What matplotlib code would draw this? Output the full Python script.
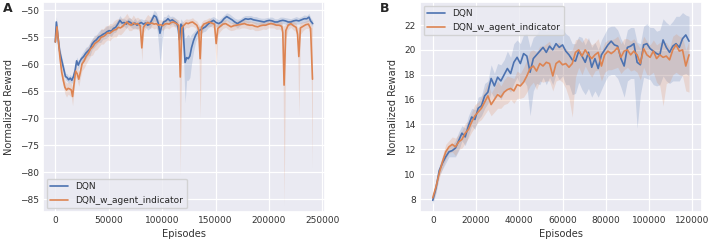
import numpy as np
import matplotlib
matplotlib.use("Agg")
import matplotlib.pyplot as plt
import seaborn as sns

sns.set_theme(style="darkgrid")
plt.rcParams['font.family'] = ['DejaVu Sans']

# ---------------- Panel A data ----------------
a_dqn_x = [0, 1000, 2500, 4000, 6000, 8000, 9500, 11000, 12500, 14000, 15500, 17000, 18500, 20000,
           21500, 23000, 24500, 26500, 28500, 30500, 32500, 34500, 36500, 38500, 40500, 42500, 44500,
           46500, 48500, 50500, 52500, 54500, 56500, 58500, 60500, 62500, 64500, 66500, 68500, 70500,
           72500, 74500, 76500, 78500, 80500, 82500, 84500, 86500, 88500, 90500, 92500, 94500, 96500,
           98000, 99500, 101500, 103500, 105500, 107500, 109500, 111500, 113500, 114800, 116200, 117600,
           119500, 121500, 123000, 124500, 126000, 127500, 129500, 131500, 133500, 135500, 138000,
           140500, 143000, 145500, 148000, 150500, 153000, 155500, 158000, 160500, 163000, 165500,
           168000, 170500, 173000, 175500, 178000, 180500, 183000, 185500, 188000, 190500, 193000,
           195500, 198000, 200500, 203000, 205500, 208000, 210500, 213000, 215500, 218000, 220500,
           223000, 225500, 228000, 230500, 233000, 235500, 237500, 239000, 241000]
a_dqn_y = [-55.9, -52.2, -55.0, -57.5, -59.3, -61.0, -62.3, -62.5, -62.9, -62.6, -63.0, -62.3, -61.2, -59.4,
           -60.2, -59.5, -59.0, -58.6, -58.0, -57.6, -57.2, -56.3, -55.8, -55.5, -55.0, -54.8, -54.5,
           -54.3, -54.0, -53.8, -53.9, -53.4, -53.2, -52.6, -51.9, -52.4, -52.3, -52.6, -52.1, -52.3,
           -52.7, -52.4, -52.8, -52.5, -52.3, -52.6, -52.4, -52.8, -52.6, -51.8, -51.0, -51.3, -52.5,
           -54.3, -53.0, -52.2, -52.0, -51.6, -52.0, -51.8, -52.1, -52.4, -53.0, -55.5, -52.6,
           -53.2, -59.7, -58.8, -59.0, -58.5, -57.0, -55.6, -54.6, -54.0, -53.7, -53.4,
           -53.1, -52.6, -52.2, -51.9, -52.3, -52.5, -52.2, -51.6, -51.2, -51.5, -51.8,
           -52.2, -52.5, -52.2, -51.9, -51.6, -51.7, -51.6, -51.8, -51.9, -52.0, -52.1,
           -52.2, -52.0, -51.9, -52.0, -52.2, -52.2, -52.0, -51.9, -52.0, -52.2, -52.2,
           -52.0, -51.9, -52.0, -51.8, -51.6, -51.6, -51.3, -52.0, -52.5]
a_dqn_lo = [1.0, 1.0, 1.0, 1.0, 0.7, 0.7, 0.6, 0.7, 0.6, 0.7, 0.6, 0.7, 0.8, 0.7,
            0.8, 0.7, 0.8, 1.0, 1.1, 0.9, 1.2, 1.0, 1.1, 0.9, 1.0, 1.2, 0.9,
            1.0, 1.1, 0.9, 1.0, 0.8, 0.9, 0.8, 0.7, 0.8, 0.7, 0.8, 0.7, 0.8,
            0.7, 0.9, 0.7, 0.8, 0.7, 0.8, 0.7, 0.9, 0.8, 0.9, 1.0, 0.9, 3.5,
            5.5, 4.0, 1.2, 0.8, 0.9, 0.8, 0.7, 0.8, 0.7, 0.9, 1.6, 1.0,
            2.5, 7.5, 4.2, 4.0, 4.0, 3.0, 2.0, 1.2, 0.9, 0.8, 0.7,
            0.8, 0.7, 0.8, 0.7, 0.8, 0.7, 0.8, 0.7, 0.7, 0.8, 0.7,
            0.7, 0.8, 0.6, 0.7, 0.6, 0.7, 0.6, 0.6, 0.7, 0.6, 0.6,
            0.7, 0.6, 0.6, 0.7, 0.6, 0.6, 0.7, 0.6, 0.6, 0.7, 0.6,
            0.6, 0.7, 0.6, 0.6, 0.7, 0.6, 0.7, 0.6, 0.6]
a_dqn_hi = [1.0, 1.0, 1.0, 1.0, 0.7, 0.7, 0.6, 0.7, 0.6, 0.7, 0.6, 0.7, 0.8, 0.7,
            0.8, 0.7, 0.8, 1.0, 1.1, 0.9, 1.2, 1.0, 1.1, 0.9, 1.0, 1.2, 0.9,
            1.0, 1.1, 0.9, 1.0, 0.8, 0.9, 0.8, 0.9, 0.8, 0.7, 0.8, 0.7, 0.8,
            0.7, 0.9, 0.7, 0.8, 0.7, 0.8, 0.7, 0.9, 0.8, 0.9, 1.0, 0.9, 1.0,
            1.0, 0.8, 1.0, 0.8, 0.9, 0.8, 0.7, 0.8, 0.7, 0.9, 1.6, 1.0,
            1.0, 4.5, 4.0, 4.5, 3.5, 2.5, 1.5, 1.0, 0.9, 0.8, 0.7,
            0.8, 0.7, 0.8, 0.7, 0.8, 0.7, 0.8, 0.7, 0.7, 0.8, 0.7,
            0.7, 0.8, 0.6, 0.7, 0.6, 0.7, 0.6, 0.6, 0.7, 0.6, 0.6,
            0.7, 0.6, 0.6, 0.7, 0.6, 0.6, 0.7, 0.6, 0.6, 0.7, 0.6,
            0.6, 0.7, 0.6, 0.6, 0.7, 0.6, 0.7, 0.6, 0.6]

a_ind_x = [0, 1600, 3000, 4500, 6000, 7500, 9000, 10500, 12000, 13500, 15000, 16200, 17500, 19000,
           20500, 22000, 23500, 25000, 27000, 29000, 31000, 33000, 35000, 37000, 39000, 41000, 43000,
           45000, 47000, 49000, 51000, 53000, 55000, 57000, 59000, 61000, 63000, 65000, 67000, 69000,
           71000, 73000, 75000, 77000, 79500, 81000, 82500, 84500, 86500, 88500, 90500, 92500, 94500,
           96500, 98500, 100500, 102500, 104500, 106500, 108500, 110500, 112500, 115500, 117000, 118500,
           120500, 122500, 124500, 126500, 128500, 130500, 132500, 134200, 135600, 137000, 139000,
           141500, 144000, 146500, 149000, 150600, 152200, 154500, 157000, 159500, 162000, 164500,
           167000, 169500, 172000, 174500, 177000, 179500, 182000, 184500, 187000, 189500, 192000,
           194500, 197000, 199500, 202000, 204500, 207000, 209500, 212000, 213000, 214200, 215800,
           218000, 220500, 223000, 225500, 226800, 228000, 229500, 232000, 234500, 237000, 239000, 240800]
a_ind_y = [-55.9, -53.1, -56.0, -59.0, -61.5, -63.0, -64.3, -64.8, -64.5, -64.6, -64.8, -66.0, -63.8, -61.3,
           -61.8, -62.8, -61.5, -60.0, -59.4, -58.5, -58.0, -57.2, -56.8, -56.2, -55.9, -55.6, -55.0,
           -54.9, -54.6, -54.2, -54.3, -54.0, -53.7, -53.6, -53.2, -53.3, -53.0, -52.6, -52.2, -52.6,
           -52.8, -52.4, -52.6, -52.5, -52.9, -57.0, -53.2, -52.6, -52.3, -52.5, -52.4, -52.6, -52.5,
           -52.8, -52.7, -52.9, -52.6, -52.5, -52.6, -52.3, -52.2, -52.4, -52.8, -62.4, -53.3,
           -52.8, -52.4, -52.5, -52.3, -52.2, -52.5, -52.8, -53.6, -59.0, -53.2, -52.6,
           -52.4, -52.2, -52.4, -52.6, -56.2, -53.4, -53.0, -52.6, -52.5, -52.8, -53.1,
           -52.9, -52.8, -52.7, -52.6, -52.5, -52.7, -52.8, -52.8, -53.0, -53.1, -52.9,
           -52.8, -52.8, -52.6, -52.5, -52.6, -52.8, -52.8, -53.0, -54.2, -63.9, -53.8,
           -52.8, -52.5, -52.9, -53.2, -54.5, -58.6, -53.3, -53.0, -52.7, -52.6, -53.4, -62.8]
a_ind_lo = [1.0, 1.0, 1.0, 1.2, 1.2, 1.1, 1.2, 1.3, 1.1, 1.2, 1.3, 1.7, 1.2, 1.1,
            1.2, 1.3, 1.1, 1.2, 1.3, 1.4, 1.2, 1.3, 1.5, 1.3, 1.4, 1.2, 1.3,
            1.4, 1.2, 1.3, 1.4, 1.2, 1.3, 1.4, 1.2, 1.3, 1.2, 1.1, 1.0, 1.2,
            1.0, 1.1, 0.9, 1.0, 1.0, 2.5, 1.0, 0.9, 0.8, 0.9, 0.8, 0.9, 0.8,
            0.9, 0.8, 0.9, 0.8, 0.8, 0.9, 0.8, 0.8, 0.8, 1.0, 18.2, 1.2,
            0.9, 0.8, 0.8, 0.7, 0.8, 0.7, 0.8, 1.2, 11.0, 1.2, 0.8,
            0.7, 0.8, 0.7, 0.8, 4.6, 1.2, 0.9, 0.8, 0.7, 0.8, 0.7,
            0.8, 0.7, 0.8, 0.7, 0.8, 0.7, 0.8, 0.7, 0.8, 0.7, 0.8,
            0.7, 0.8, 0.7, 0.8, 0.7, 0.8, 0.7, 0.8, 1.5, 22.3, 1.5,
            0.8, 0.7, 0.8, 0.8, 1.5, 11.0, 1.2, 0.8, 0.7, 0.8, 1.2, 16.5]
a_ind_hi = [1.0, 1.0, 1.0, 1.2, 1.2, 1.1, 1.2, 1.3, 1.1, 1.2, 1.3, 1.5, 1.2, 1.1,
            1.2, 1.3, 1.1, 1.2, 1.3, 1.4, 1.2, 1.3, 1.5, 1.3, 1.4, 1.2, 1.6,
            1.4, 1.7, 1.3, 1.8, 1.5, 1.7, 1.9, 1.6, 1.8, 1.5, 1.4, 1.6, 1.3,
            1.2, 1.5, 1.1, 1.2, 1.2, 3.5, 1.0, 1.2, 1.5, 1.3, 1.1, 1.2, 1.0,
            1.1, 0.9, 1.0, 0.9, 0.8, 0.9, 0.8, 0.8, 0.8, 1.0, 9.5, 1.0,
            0.9, 0.8, 0.8, 0.7, 0.8, 0.7, 0.8, 1.0, 6.0, 1.0, 0.8,
            0.7, 0.8, 0.7, 0.8, 3.4, 1.0, 0.9, 0.8, 0.7, 0.8, 0.7,
            0.8, 0.7, 0.8, 0.7, 0.8, 0.7, 0.8, 0.7, 0.8, 0.7, 0.8,
            0.7, 0.8, 0.7, 0.8, 0.7, 0.8, 0.7, 0.8, 1.2, 11.0, 1.2,
            0.8, 0.7, 0.8, 0.8, 1.2, 5.5, 1.0, 0.8, 0.7, 0.8, 1.0, 9.5]

# ---------------- Panel B data ----------------
b_x = [0, 1500, 3000, 4500, 6000, 7500, 9000, 10500, 12000, 13500, 15000, 16500, 18000, 19500,
       21000, 22500, 24000, 25500, 27000, 28500, 30000, 31500, 33000, 34500, 36000, 37500, 39000,
       40500, 42000, 43500, 45000, 46500, 48000, 49500, 51000, 52500, 54000, 55500, 57000, 58500,
       60000, 61500, 63000, 64500, 66000, 67500, 69000, 70500, 72000, 73500, 75000, 76500, 78000,
       79500, 81000, 82500, 84000, 85500, 87000, 88500, 90000, 91500, 93000, 94500, 96000, 97500,
       99000, 100500, 102000, 103500, 105000, 106500, 108000, 109500, 111000, 112500, 114000,
       115500, 117000, 118500]
b_dqn_y = [7.9, 8.9, 10.3, 10.9, 11.4, 11.8, 11.9, 12.1, 12.7, 13.3, 13.0, 13.9, 14.6, 14.4,
           15.3, 15.5, 16.3, 16.6, 17.7, 17.1, 17.8, 17.5, 18.0, 18.5, 18.1, 19.0, 19.4,
           18.9, 19.7, 19.5, 18.2, 19.3, 19.6, 19.9, 20.2, 19.8, 20.3, 20.0, 20.5, 20.2,
           20.4, 19.9, 19.6, 19.2, 19.1, 19.9, 19.5, 19.0, 19.8, 18.6, 19.3, 18.5, 19.6,
           20.0, 20.4, 20.7, 20.4, 20.3, 19.3, 18.7, 20.2, 20.3, 20.5, 19.0, 18.8, 20.4,
           20.5, 20.1, 19.9, 19.7, 19.6, 20.8, 20.2, 19.8, 20.3, 20.5, 20.2,
           20.9, 21.2, 20.7]
b_dqn_lo = [0.3, 0.4, 0.4, 0.5, 0.5, 0.4, 0.5, 0.7, 0.8, 0.6, 0.7, 0.8, 0.7, 0.8,
            0.9, 0.8, 1.0, 0.9, 1.1, 1.0, 1.2, 1.5, 1.4, 1.6, 1.5, 1.7, 1.6,
            1.8, 2.1, 2.4, 3.5, 2.6, 2.3, 2.7, 2.4, 2.6, 2.5, 2.8, 2.4, 2.6,
            2.5, 2.7, 2.4, 2.8, 2.6, 2.5, 2.7, 2.6, 2.9, 2.4, 2.6, 2.3, 2.8,
            2.6, 2.5, 2.7, 2.4, 2.6, 2.3, 2.5, 2.7, 2.6, 2.8, 5.3, 2.4, 2.6,
            2.8, 2.5, 2.7, 2.6, 2.4, 2.9, 2.7, 2.5, 2.8, 3.0, 2.7,
            2.9, 3.1, 2.8]
b_dqn_hi = [0.3, 0.4, 0.4, 0.5, 0.5, 0.4, 0.5, 0.6, 0.7, 0.6, 0.7, 0.8, 0.7, 0.8,
            0.9, 0.8, 1.0, 0.9, 1.1, 1.0, 1.1, 1.3, 1.2, 1.4, 1.3, 1.5, 1.4,
            1.6, 1.5, 1.8, 2.0, 1.7, 1.6, 1.8, 1.5, 1.7, 1.4, 1.6, 1.3, 1.5,
            1.3, 1.4, 1.5, 1.3, 1.4, 1.2, 1.5, 1.4, 1.2, 1.6, 1.3, 1.5, 1.2,
            1.3, 1.4, 1.2, 1.5, 1.3, 1.6, 1.7, 1.4, 1.5, 1.3, 1.6, 1.7, 1.5,
            1.6, 1.7, 1.9, 1.8, 2.0, 1.7, 2.0, 2.2, 2.0, 2.2, 2.5,
            2.1, 1.6, 2.0]
b_ind_y = [8.1, 9.0, 10.1, 11.0, 11.8, 12.2, 12.4, 12.2, 12.6, 12.8, 13.3, 13.6, 14.2, 14.7,
           15.0, 15.3, 15.8, 16.3, 15.6, 16.0, 16.4, 16.2, 16.6, 16.8, 16.9, 16.7, 17.2,
           17.1, 17.4, 17.9, 18.5, 18.7, 18.3, 18.9, 18.7, 19.0, 18.9, 17.9, 18.9, 19.1,
           18.8, 18.9, 18.6, 18.9, 19.8, 20.0, 19.5, 20.0, 19.6, 19.3, 19.6, 19.8, 18.7,
           19.6, 19.9, 19.7, 19.9, 20.2, 19.4, 19.9, 20.0, 19.6, 19.9, 19.6, 18.9, 20.1,
           19.6, 19.4, 19.9, 19.3, 19.6, 19.4, 19.5, 19.2, 20.0, 20.4, 19.9,
           20.0, 18.7, 19.6]
b_ind_lo = [0.3, 0.4, 0.4, 0.5, 0.6, 0.5, 0.6, 0.7, 0.6, 0.7, 0.8, 0.7, 0.8, 0.9,
            0.8, 0.9, 1.0, 1.1, 0.9, 1.0, 1.1, 0.9, 1.0, 1.1, 0.9, 1.0, 1.1,
            1.0, 1.2, 1.3, 1.4, 1.3, 1.5, 1.4, 1.3, 1.5, 1.4, 1.2, 1.4, 1.5,
            1.4, 2.0, 2.5, 4.3, 2.0, 1.4, 1.5, 1.3, 1.4, 1.5, 1.3, 1.4, 1.2,
            1.4, 1.5, 1.3, 1.4, 1.6, 1.3, 1.5, 1.4, 1.3, 1.5, 1.4, 1.3, 1.5,
            1.6, 1.4, 1.7, 1.9, 2.5, 3.9, 2.2, 1.8, 2.0, 2.2, 1.9,
            2.1, 2.0, 3.0]
b_ind_hi = [0.3, 0.4, 0.4, 0.5, 0.6, 0.5, 0.6, 0.7, 0.6, 0.7, 0.8, 0.7, 0.8, 0.9,
            0.8, 0.9, 1.0, 1.1, 0.9, 1.0, 1.1, 0.9, 1.0, 1.1, 0.9, 1.0, 1.1,
            1.0, 1.2, 1.3, 1.4, 1.3, 1.5, 1.4, 1.6, 1.5, 1.8, 2.0, 1.6, 1.5,
            1.4, 1.2, 1.3, 1.1, 1.0, 0.9, 1.1, 1.0, 1.2, 1.1, 1.0, 1.1, 1.2,
            1.0, 0.9, 1.1, 1.0, 0.9, 1.1, 1.0, 0.9, 1.1, 1.0, 0.9, 1.2, 1.0,
            1.1, 1.0, 0.9, 1.1, 1.0, 1.2, 1.1, 1.0, 1.1, 0.9, 1.2,
            1.0, 1.3, 1.1]

series_names = ["DQN", "DQN_w_agent_indicator"]
a_xticks = [0, 50000, 100000, 150000, 200000, 250000]
a_yticks = [-85, -80, -75, -70, -65, -60, -55, -50]
b_xticks = [0, 20000, 40000, 60000, 80000, 100000, 120000]
b_yticks = [8, 10, 12, 14, 16, 18, 20, 22]

blue, orange = sns.color_palette("deep")[0], sns.color_palette("deep")[1]

W, H = 708, 243
fig = plt.figure(figsize=(W / 100, H / 100), dpi=100)
axA = fig.add_axes([43 / W, 1 - 212 / H, (325 - 43) / W, (212 - 2) / H])
axB = fig.add_axes([420 / W, 1 - 212 / H, (702 - 420) / W, (212 - 2) / H])

TICK = 6.5
LAB = 7.1


def draw(ax, x1, y1, lo1, hi1, x2, y2, lo2, hi2):
    for x, y, lo, hi, c, name in [(x1, y1, lo1, hi1, blue, series_names[0]),
                                  (x2, y2, lo2, hi2, orange, series_names[1])]:
        x = np.asarray(x, float)
        y = np.asarray(y, float)
        ax.fill_between(x, y - np.asarray(lo), y + np.asarray(hi), color=c, alpha=0.2, lw=0)
        ax.plot(x, y, color=c, lw=1.2, label=name)


draw(axA, a_dqn_x, a_dqn_y, a_dqn_lo, a_dqn_hi, a_ind_x, a_ind_y, a_ind_lo, a_ind_hi)
draw(axB, b_x, b_dqn_y, b_dqn_lo, b_dqn_hi, b_x, b_ind_y, b_ind_lo, b_ind_hi)

axA.set_xlim(-11500, 252500)
axA.set_ylim(-87.4, -48.5)
axA.set_xticks(a_xticks)
axA.set_yticks(a_yticks)
axB.set_xlim(-5900, 124500)
axB.set_ylim(6.96, 23.85)
axB.set_xticks(b_xticks)
axB.set_yticks(b_yticks)

for ax in (axA, axB):
    ax.tick_params(labelsize=TICK, pad=3, length=0, colors="#333333")
    ax.set_xlabel("Episodes", fontsize=LAB, labelpad=2.5, color="#333333")
    ax.set_ylabel("Normalized Reward", fontsize=LAB, labelpad=4.5, color="#333333")
    ax.grid(True, color="white", lw=0.9)

axA.legend(loc="lower left", fontsize=TICK, borderaxespad=0.4, handlelength=2.0)
axB.legend(loc="upper left", fontsize=TICK, borderaxespad=0.4, handlelength=2.0)

fig.text(3 / W, 1 - 9 / H, "A", fontsize=9, fontweight="bold", va="center", ha="left")
fig.text(380 / W, 1 - 9 / H, "B", fontsize=9, fontweight="bold", va="center", ha="left")

fig.savefig("out.png", dpi=100)
